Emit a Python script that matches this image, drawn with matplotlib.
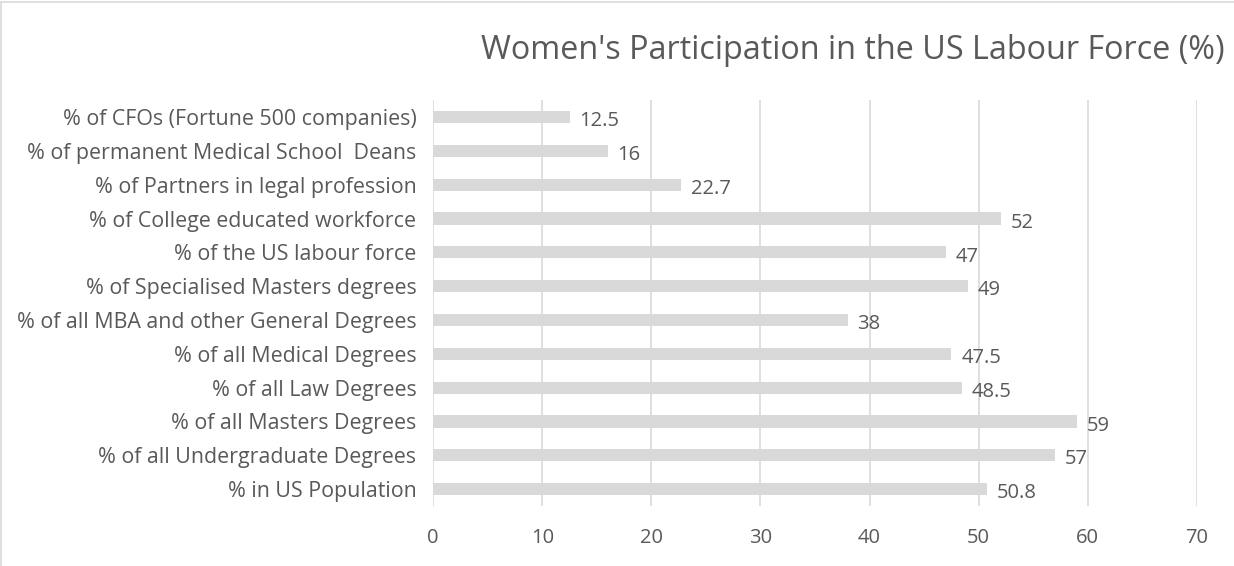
import matplotlib.pyplot as plt
from matplotlib.patches import Rectangle

# Data (top to bottom as shown in chart)
categories = ["% of CFOs (Fortune 500 companies)",
              "% of permanent Medical School  Deans",
              "% of Partners in legal profession",
              "% of College educated workforce",
              "% of the US labour force",
              "% of Specialised Masters degrees",
              "% of all MBA and other General Degrees",
              "% of all Medical Degrees",
              "% of all Law Degrees",
              "% of all Masters Degrees",
              "% of all Undergraduate Degrees",
              "% in US Population"]
values = [12.5, 16, 22.7, 52, 47, 49, 38, 47.5, 48.5, 59, 57, 50.8]
labels = ["12.5", "16", "22.7", "52", "47", "49", "38", "47.5", "48.5", "59", "57", "50.8"]
x_ticks = [0, 10, 20, 30, 40, 50, 60, 70]

plt.rcParams['font.family'] = ['Open Sans', 'DejaVu Sans']
text_color = "#595959"
grid_color = "#d9d9d9"

fig = plt.figure(figsize=(12.34, 5.66), dpi=100)
ax = fig.add_axes([0.351, 0.106, 0.619, 0.717])

pos = list(range(len(categories)))
ax.barh(pos, values, height=0.36, color="#d9d9d9", zorder=2)
for p, v, lab in zip(pos, values, labels):
    ax.annotate(lab, (v, p), xytext=(7, -3), textcoords="offset points",
                ha="left", va="center", fontsize=14.5, color=text_color)

ax.set_ylim(len(categories) - 0.5, -0.5)
ax.set_xlim(0, 70)
ax.set_yticks(pos)
ax.set_yticklabels(categories, fontsize=15.4, color=text_color)
ax.set_xticks(x_ticks)
ax.set_xticklabels([str(t) for t in x_ticks], fontsize=14.5, color=text_color)
ax.tick_params(length=0, pad=12, axis="y")
ax.tick_params(length=0, pad=16, axis="x")
ax.grid(axis="x", color=grid_color, linewidth=1.2, zorder=0)
for s in ax.spines.values():
    s.set_visible(False)

fig.text(0.992, 0.91, "Women's Participation in the US Labour Force (%)",
         ha="right", va="center", fontsize=23.3, color=text_color)

# light frame around the chart area
fig.patches.append(Rectangle((0.001, -0.01), 1.2, 1.007, transform=fig.transFigure,
                             fill=False, edgecolor="#d9d9d9", linewidth=1.2))

fig.savefig("out.png", dpi=100)
